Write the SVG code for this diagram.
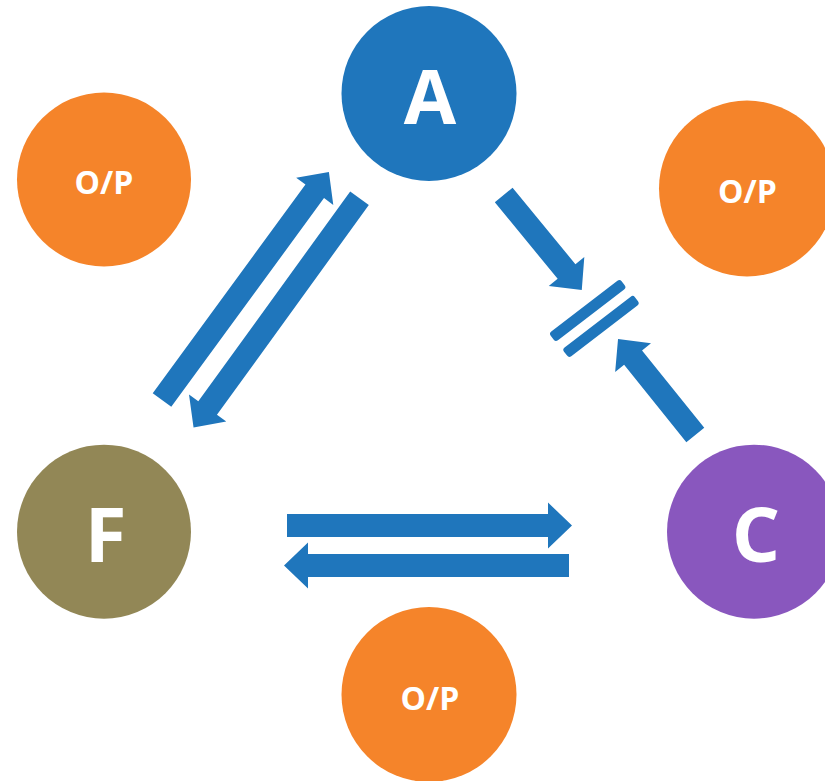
<svg xmlns="http://www.w3.org/2000/svg" width="825" height="781" viewBox="0 0 825 781">
<style>
.arr{fill:#1F76BC}
.bar{fill:#1F76BC}
.lbl{font-family:"Open Sans","Liberation Sans",sans-serif;font-weight:bold;fill:#FFFFFF;text-anchor:middle}
.big{font-size:76px}
.small{font-size:32px}
</style>
<rect width="825" height="781" fill="#FFFFFF"/>
<g id="node-op-topleft"><circle cx="104" cy="179.5" r="87" fill="#F5842A"/><text class="lbl small" x="104" y="193.5">O/P</text></g>
<g id="node-A"><circle cx="429" cy="93.5" r="87.5" fill="#1F76BC"/><text class="lbl big" x="430" y="124">A</text></g>
<g id="node-op-topright"><circle cx="747" cy="188.5" r="88" fill="#F5842A"/><text class="lbl small" x="747.5" y="202.5">O/P</text></g>
<g id="node-F"><circle cx="104" cy="531.7" r="87" fill="#928756"/><text class="lbl big" x="105.5" y="561.5">F</text></g>
<g id="node-C"><circle cx="754" cy="531.7" r="87" fill="#8957BE"/><text class="lbl big" x="756" y="561.5">C</text></g>
<g id="node-op-bottom"><circle cx="429" cy="694.5" r="87.5" fill="#F5842A"/><text class="lbl small" x="430" y="709.5">O/P</text></g>
<g id="connectors">
<path class="arr" transform="translate(162,400) rotate(-53.8)" d="M0,-11.5 L258.6,-11.5 L258.6,-23 L282.6,0 L258.6,23 L258.6,11.5 L0,11.5 Z"/>
<path class="arr" transform="translate(359.5,198.3) rotate(125.9)" d="M0,-11.5 L259,-11.5 L259,-23 L283,0 L259,23 L259,11.5 L0,11.5 Z"/>
<path class="arr" transform="translate(503.7,195) rotate(50.6)" d="M0,-11.5 L99,-11.5 L99,-23 L123,0 L99,23 L99,11.5 L0,11.5 Z"/>
<path class="arr" transform="translate(695.3,435) rotate(231.2)" d="M0,-11.5 L99.3,-11.5 L99.3,-23 L123.3,0 L99.3,23 L99.3,11.5 L0,11.5 Z"/>
<path class="arr" transform="translate(287,525.5)" d="M0,-11.5 L261,-11.5 L261,-23 L285,0 L261,23 L261,11.5 L0,11.5 Z"/>
<path class="arr" transform="translate(569,565.5) rotate(180)" d="M0,-11.5 L261,-11.5 L261,-23 L285,0 L261,23 L261,11.5 L0,11.5 Z"/>
<g id="blocker">
<rect class="bar" x="-44.7" y="-5.5" width="89.4" height="11" rx="3" transform="translate(587.7,310.5) rotate(-37.5)"/>
<rect class="bar" x="-44.7" y="-5.5" width="89.4" height="11" rx="3" transform="translate(601,326.4) rotate(-37.5)"/>
</g>
</g>
</svg>
